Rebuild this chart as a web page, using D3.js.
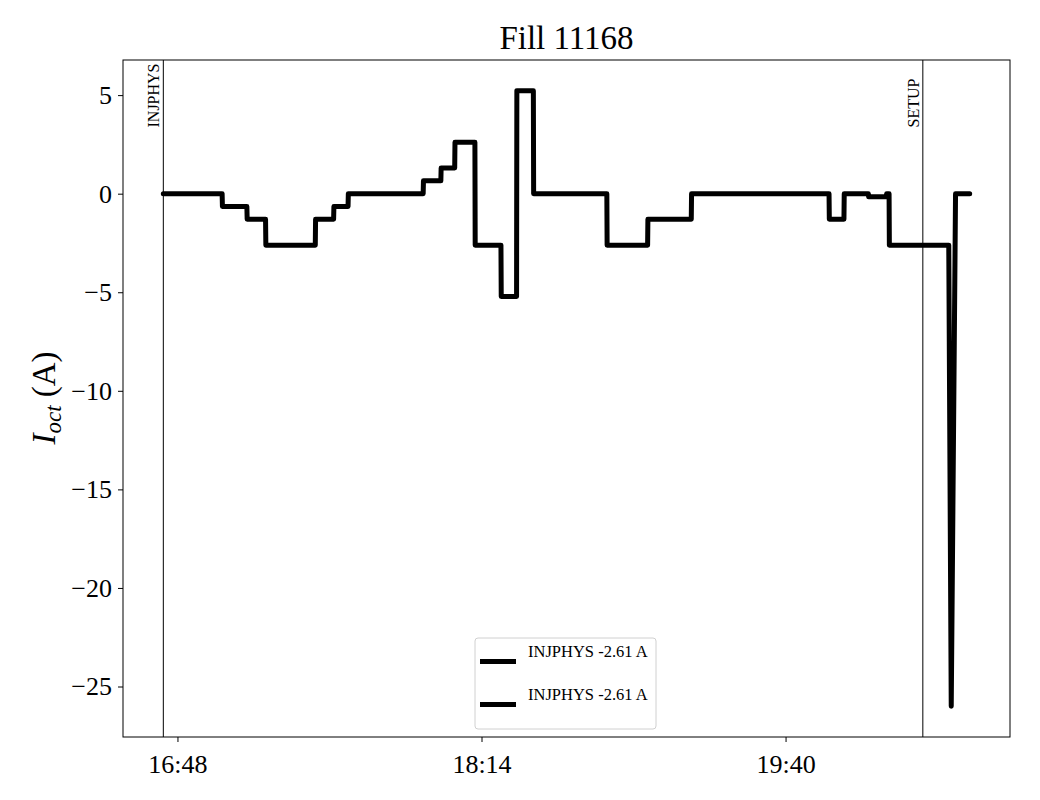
<!DOCTYPE html>
<html>
<head>
<meta charset="utf-8">
<script src="https://cdn.jsdelivr.net/npm/d3@7"></script>
<style>
  body { margin: 0; background: #fff; }
  text { font-family: "Liberation Serif", "DejaVu Serif", serif; fill: #000; }
</style>
</head>
<body>
<svg id="chart" width="1040" height="800"></svg>
<script>
// sampled current of the octupoles during the fill
const times = [
  "16:44:00", "17:00:38", "17:00:43", "17:07:38", "17:07:43", "17:12:55", "17:13:00",
  "17:26:59", "17:27:04", "17:32:10", "17:32:15", "17:36:15", "17:36:20",
  "17:57:30", "17:57:35", "18:02:30", "18:02:35", "18:06:25", "18:06:30",
  "18:12:08", "18:12:13", "18:19:30", "18:19:35", "18:23:55", "18:24:00",
  "18:28:40", "18:28:45", "18:49:27", "18:49:32", "19:00:59", "19:01:04",
  "19:13:20", "19:13:25", "19:52:18", "19:52:23", "19:56:31", "19:56:36",
  "20:03:25", "20:03:30", "20:08:31", "20:08:36", "20:09:17", "20:09:22",
  "20:26:10", "20:26:52", "20:28:05", "20:32:05"
];
const current = [
  0, 0, -0.65, -0.65, -1.3, -1.3, -2.61,
  -2.61, -1.3, -1.3, -0.65, -0.65, 0,
  0, 0.65, 0.65, 1.3, 1.3, 2.61,
  2.61, -2.61, -2.61, -5.22, -5.22, 5.22,
  5.22, 0, 0, -2.61, -2.61, -1.3,
  -1.3, 0, 0, -1.3, -1.3, 0,
  0, -0.16, -0.16, 0, 0, -2.61,
  -2.61, -26.0, 0, 0
];

// beam mode markers
const modeNames = ["INJPHYS", "SETUP"];
const modeTimes = ["16:44:00", "20:18:50"];

const xTickTimes = ["16:48", "18:14", "19:40"];
const yTickValues = [5, 0, -5, -10, -15, -20, -25];

const legendLabels = ["INJPHYS -2.61 A", "INJPHYS -2.61 A"];
const title = "Fill 11168";

const parseT = d3.timeParse("%H:%M:%S");
const parseHM = d3.timeParse("%H:%M");

const data = times.map((t, i) => ({ t: parseT(t), v: current[i] }));

const svg = d3.select("#chart");
const plot = { left: 123, right: 1010, top: 60, bottom: 737 };

// matplotlib-like 5% margins around the data
const tExt = d3.extent(data, d => d.t);
const tPad = (tExt[1] - tExt[0]) * 0.05;
const vExt = d3.extent(data, d => d.v);
const vPad = (vExt[1] - vExt[0]) * 0.05;

const x = d3.scaleTime()
  .domain([new Date(+tExt[0] - tPad), new Date(+tExt[1] + tPad)])
  .range([plot.left, plot.right]);
const y = d3.scaleLinear()
  .domain([vExt[0] - vPad, vExt[1] + vPad])
  .range([plot.bottom, plot.top]);

// title
svg.append("text")
  .attr("x", (plot.left + plot.right) / 2)
  .attr("y", 49)
  .attr("text-anchor", "middle")
  .style("font-size", "33px")
  .text(title);

// x axis
const xAxis = svg.append("g")
  .attr("transform", `translate(0,${plot.bottom})`)
  .call(d3.axisBottom(x)
    .tickValues(xTickTimes.map(parseHM))
    .tickFormat(d3.timeFormat("%H:%M"))
    .tickSize(5)
    .tickPadding(6));
xAxis.select(".domain").remove();
xAxis.selectAll("text").style("font-size", "26px").attr("dy", "0.95em");

// y axis
const yAxis = svg.append("g")
  .attr("transform", `translate(${plot.left},0)`)
  .call(d3.axisLeft(y)
    .tickValues(yTickValues)
    .tickSize(5)
    .tickPadding(6));
yAxis.select(".domain").remove();
yAxis.selectAll("text").style("font-size", "26px");

// y label
const yLabel = svg.append("text")
  .attr("transform", "translate(55,398) rotate(-90)")
  .attr("text-anchor", "middle")
  .style("font-size", "33px");
yLabel.append("tspan").style("font-style", "italic").text("I");
yLabel.append("tspan").style("font-style", "italic").style("font-size", "23px").attr("dy", 6).text("oct");
yLabel.append("tspan").attr("dy", -6).text(" (A)");

// mode lines + labels
modeTimes.forEach((t, i) => {
  const xm = x(parseT(t));
  svg.append("line")
    .attr("x1", xm).attr("x2", xm)
    .attr("y1", plot.top).attr("y2", plot.bottom)
    .attr("stroke", "#000")
    .attr("stroke-width", 1);
  svg.append("text")
    .attr("transform", `translate(${xm - 4},127.5) rotate(-90)`)
    .style("font-size", "16px")
    .text(modeNames[i]);
});

// current trace
const line = d3.line()
  .x(d => x(d.t))
  .y(d => y(d.v));

svg.append("path")
  .datum(data)
  .attr("d", line)
  .attr("fill", "none")
  .attr("stroke", "#000")
  .attr("stroke-width", 5)
  .attr("stroke-linejoin", "round")
  .attr("stroke-linecap", "round");

// frame
svg.append("rect")
  .attr("x", plot.left).attr("y", plot.top)
  .attr("width", plot.right - plot.left)
  .attr("height", plot.bottom - plot.top)
  .attr("fill", "none")
  .attr("stroke", "#000")
  .attr("stroke-width", 1);

// legend
const legend = svg.append("g").attr("transform", "translate(475,638)");
legend.append("rect")
  .attr("width", 181).attr("height", 91)
  .attr("rx", 3)
  .attr("fill", "#fff")
  .attr("stroke", "#d0d0d0");
legendLabels.forEach((lbl, i) => {
  legend.append("line")
    .attr("x1", 5).attr("x2", 41)
    .attr("y1", 23.5 + i * 43).attr("y2", 23.5 + i * 43)
    .attr("stroke", "#000")
    .attr("stroke-width", 5);
  legend.append("text")
    .attr("x", 53)
    .attr("y", 19 + i * 43)
    .style("font-size", "16.5px")
    .text(lbl);
});
</script>
</body>
</html>
